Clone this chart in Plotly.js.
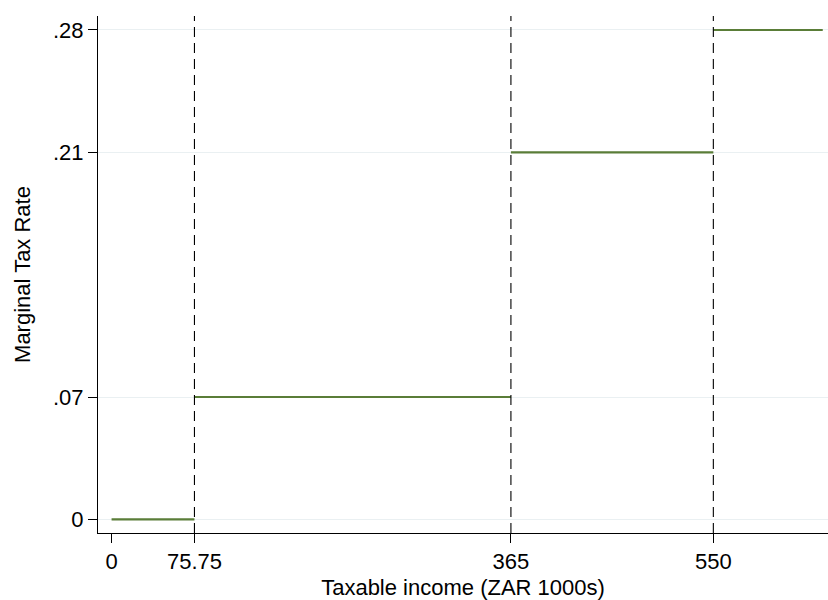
<!DOCTYPE html>
<html>
<head>
<meta charset="utf-8">
<script src="https://cdn.plot.ly/plotly-3.0.1.min.js"></script>
<style>html,body{margin:0;padding:0;background:#fff;}#chart{width:828px;height:600px;}</style>
</head>
<body>
<div id="chart"></div>
<script>
// Tax brackets (ZAR 1000s) and marginal rates
const bracketLower = [0, 75.75, 365, 550];
const bracketUpper = [75.75, 365, 550, 650];
const marginalRates = [0, 0.07, 0.21, 0.28];
const thresholds = [75.75, 365, 550];
const xTickVals = [0, 75.75, 365, 550];
const xTickText = ["0", "75.75", "365", "550"];
const yTickVals = [0, 0.07, 0.21, 0.28];
const yTickText = ["0", ".07", ".21", ".28"];

const xs = [], ys = [];
for (let i = 0; i < bracketLower.length; i++) {
  xs.push(bracketLower[i], bracketUpper[i], null);
  ys.push(marginalRates[i], marginalRates[i], null);
}

const traces = [{
  type: 'scatter', mode: 'lines', x: xs, y: ys,
  line: {color: '#5a7d38', width: 2.2},
  connectgaps: false, hoverinfo: 'skip', showlegend: false
}];

const shapes = thresholds.map(t => ({
  type: 'line', xref: 'x', yref: 'paper', x0: t, x1: t, y0: 0, y1: 1,
  line: {color: '#000', width: 1.1, dash: '10px,6px'}, layer: 'above'
}));

const font = {family: 'Liberation Sans, Arial, Helvetica, sans-serif', size: 22, color: '#000'};

const layout = {
  width: 828, height: 600,
  margin: {l: 98, r: 0, t: 16, b: 67},
  paper_bgcolor: '#fff', plot_bgcolor: '#fff',
  font: font,
  showlegend: false,
  shapes: shapes,
  xaxis: {
    range: [-12.4, 654.8],
    tickvals: xTickVals, ticktext: xTickText,
    ticks: 'outside', ticklen: 9, tickwidth: 1, tickcolor: '#000',
    showgrid: false, zeroline: false,
    showline: true, linecolor: '#000', linewidth: 1,
    tickfont: font,
    title: {text: 'Taxable income (ZAR 1000s)', font: font, standoff: 11}
  },
  yaxis: {
    range: [-0.0078, 0.288],
    tickvals: yTickVals, ticktext: yTickText,
    ticks: 'outside', ticklen: 9, tickwidth: 1, tickcolor: '#000',
    showgrid: true, gridcolor: '#eaf0f2', gridwidth: 1,
    zeroline: false,
    showline: true, linecolor: '#000', linewidth: 1,
    tickfont: font,
    title: {text: 'Marginal Tax Rate', font: font, standoff: 16}
  }
};

Plotly.newPlot('chart', traces, layout, {displayModeBar: false, staticPlot: true});
</script>
</body>
</html>
